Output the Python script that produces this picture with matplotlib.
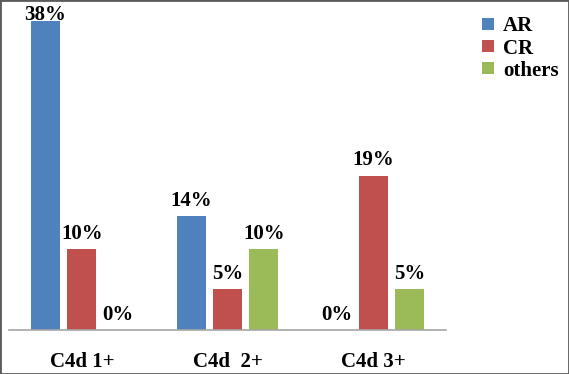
import matplotlib.pyplot as plt
import numpy as np

categories = ['C4d 1+', 'C4d  2+', 'C4d 3+']
series = ['AR', 'CR', 'others']
ar = [38, 14, 0]
cr = [10, 5, 19]
others = [0, 10, 5]
colors = ['#4F81BD', '#C0504D', '#9BBB59']

plt.rcParams['font.family'] = 'Liberation Serif'
plt.rcParams['font.weight'] = 'bold'

fig = plt.figure(figsize=(5.69, 3.74), dpi=100)
ax = fig.add_axes([9 / 569, 44 / 374, 437 / 569, 325 / 374])

x = np.arange(len(categories))
width = 0.2
offsets = [-0.25, 0, 0.25]
ymax = 40
for vals, off, col, name in zip([ar, cr, others], offsets, colors, series):
    bars = ax.bar(x + off, vals, width, color=col, label=name)
    for b, v in zip(bars, vals):
        # label sits ~10px above the bar, but stays inside the plot area
        ty = min(v + 1.25, ymax - 1.85)
        ax.text(b.get_x() + b.get_width() / 2, ty, f'{v}%',
                ha='center', va='baseline', fontsize=15, fontweight='bold')

ax.set_xlim(-0.5, 2.5)
ax.set_ylim(0, ymax)
ax.set_yticks([])
ax.set_xticks(x)
ax.set_xticklabels(categories, fontsize=15, fontweight='bold')
ax.tick_params(axis='x', length=0, pad=16)
for s in ['top', 'right', 'left']:
    ax.spines[s].set_visible(False)
ax.spines['bottom'].set_color('#A6A6A6')
ax.spines['bottom'].set_linewidth(1.2)

leg = fig.legend(loc='upper left', bbox_to_anchor=(472 / 569, 1 - 6 / 374),
                 frameon=False, fontsize=15, handlelength=0.55, handleheight=0.55,
                 handletextpad=0.45, labelspacing=0.1, borderpad=0)

# border around the picture
fig.patches.append(plt.Rectangle((0, 0), 1, 1, transform=fig.transFigure,
                                 fill=False, edgecolor='#5A5A5A', linewidth=2))

fig.savefig('out.png', dpi=100)
